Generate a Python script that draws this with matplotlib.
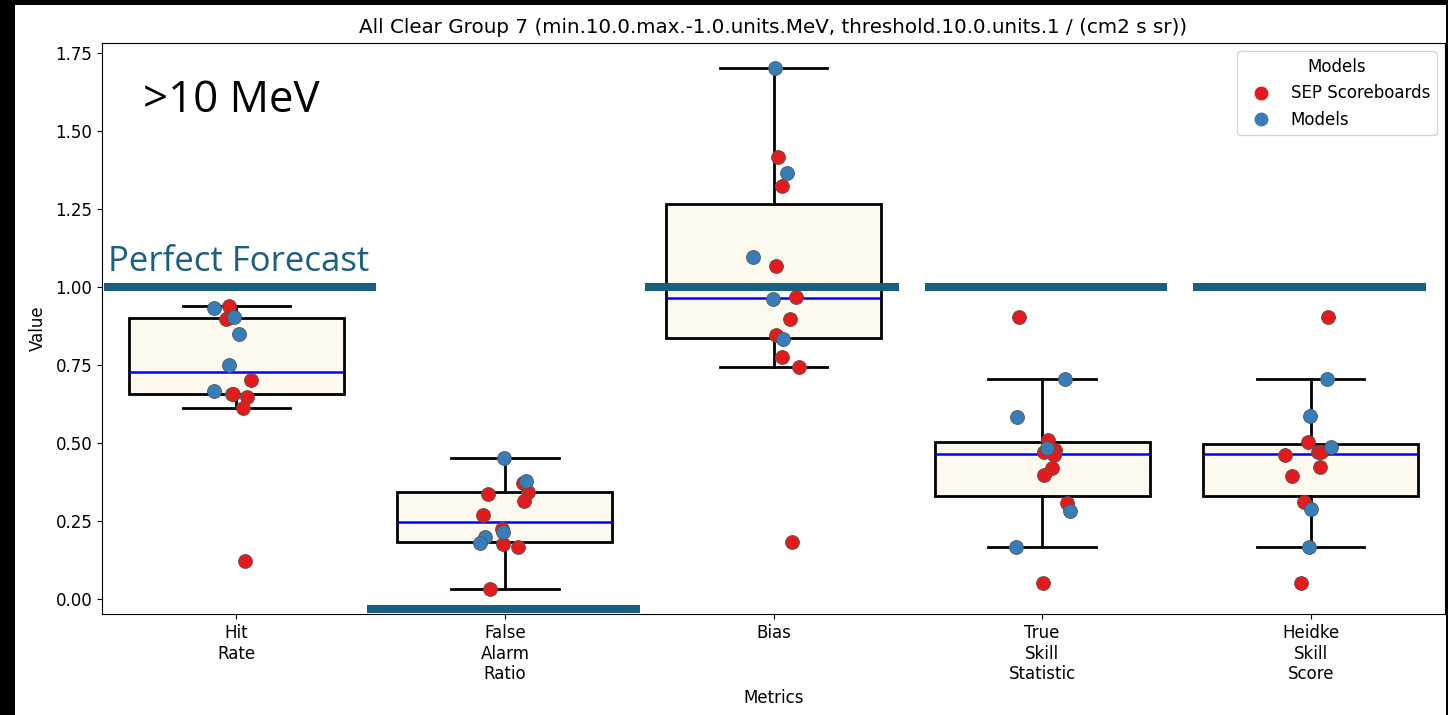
import matplotlib
matplotlib.use("Agg")
import matplotlib.pyplot as plt
from matplotlib.lines import Line2D
from matplotlib.patches import Rectangle

# ---- data -------------------------------------------------------------
metrics = ["Hit\nRate", "False\nAlarm\nRatio", "Bias", "True\nSkill\nStatistic", "Heidke\nSkill\nScore"]

# SEP Scoreboards values per metric
sep_hit = [0.939, 0.900, 0.897, 0.702, 0.656, 0.656, 0.646, 0.613, 0.122]
sep_far = [0.371, 0.344, 0.336, 0.315, 0.270, 0.223, 0.175, 0.168, 0.033]
sep_bias = [1.416, 1.324, 1.067, 0.969, 0.897, 0.846, 0.777, 0.743, 0.182]
sep_tss = [0.905, 0.510, 0.478, 0.470, 0.460, 0.421, 0.397, 0.309, 0.052]
sep_hss = [0.904, 0.502, 0.472, 0.470, 0.462, 0.424, 0.395, 0.310, 0.050]

# Model values per metric
mod_hit = [0.934, 0.905, 0.849, 0.750, 0.667]
mod_far = [0.453, 0.379, 0.216, 0.200, 0.178]
mod_bias = [1.701, 1.364, 1.097, 0.960, 0.833]
mod_tss = [0.704, 0.584, 0.485, 0.282, 0.167]
mod_hss = [0.704, 0.587, 0.486, 0.288, 0.168]

# Perfect-forecast reference level per metric
perfect = [1.0, -0.032, 1.0, 1.0, 1.0]

# ---- layout / styling -------------------------------------------------
sep_dx = [
    [-0.028, -0.032, -0.038, 0.055, -0.017, -0.012, 0.039, 0.026, 0.032],
    [0.068, 0.087, -0.064, 0.072, -0.082, -0.011, -0.008, 0.049, -0.057],
    [0.018, 0.032, 0.008, 0.084, 0.061, 0.008, 0.032, 0.095, 0.068],
    [-0.085, 0.023, 0.048, 0.008, 0.045, 0.038, 0.007, 0.093, 0.003],
    [0.063, -0.011, 0.028, 0.038, -0.096, 0.035, -0.071, -0.026, -0.037],
]
mod_dx = [
    [-0.083, -0.007, 0.009, -0.026, -0.082],
    [-0.002, 0.077, -0.008, -0.073, -0.093],
    [0.006, 0.049, -0.077, -0.001, 0.034],
    [0.086, -0.095, 0.017, 0.103, -0.097],
    [0.062, -0.003, 0.074, 0.002, -0.006],
]
perfect_span = [(-0.493, 0.520), (0.487, 1.503), (1.522, 2.467), (2.564, 3.465), (3.562, 4.429)]

RED = "#e41a1c"
BLUE = "#377eb8"
TEAL = "#185f80"

sep_all = [sep_hit, sep_far, sep_bias, sep_tss, sep_hss]
mod_all = [mod_hit, mod_far, mod_bias, mod_tss, mod_hss]
combined = [s + m for s, m in zip(sep_all, mod_all)]
positions = list(range(len(metrics)))

plt.rcParams["font.size"] = 12

fig = plt.figure(figsize=(14.48, 7.15), dpi=100)
fig.patch.set_facecolor("black")
fig.add_artist(Rectangle((15 / 1448, 0), (1446 - 15) / 1448, 710 / 715,
                         transform=fig.transFigure, facecolor="white",
                         edgecolor="none", zorder=-10))

ax = fig.add_axes([102 / 1448, 101 / 715, 1343 / 1448, 571 / 715])

ax.boxplot(
    combined, positions=positions, widths=0.8, showfliers=False, whis=1.5,
    patch_artist=True,
    boxprops=dict(facecolor="#fdf9ef", edgecolor="black", linewidth=2),
    whiskerprops=dict(color="black", linewidth=2),
    capprops=dict(color="black", linewidth=2),
    medianprops=dict(color="blue", linewidth=1.8),
    zorder=2,
)

for i in positions:
    ax.scatter([i + d for d in sep_dx[i]], sep_all[i], s=100, color=RED,
               edgecolor="#555555", linewidth=0.6, zorder=4)
    ax.scatter([i + d for d in mod_dx[i]], mod_all[i], s=100, color=BLUE,
               edgecolor="#555555", linewidth=0.6, zorder=4)
    x0, x1 = perfect_span[i]
    ax.plot([x0, x1], [perfect[i], perfect[i]], color=TEAL, linewidth=5.8,
            solid_capstyle="butt", zorder=3)

ax.text(-0.478, 1.051, "Perfect Forecast", color=TEAL, fontsize=25,
        family="Open Sans", va="baseline", ha="left")
ax.text(-0.347, 1.561, ">10 MeV", color="black", fontsize=31.5,
        family="Open Sans", va="baseline", ha="left")

ax.set_xlim(-0.5, 4.5)
ax.set_ylim(-0.048, 1.782)
ax.set_xticks(positions)
ax.set_xticklabels(metrics)
ax.set_yticks([0, 0.25, 0.5, 0.75, 1.0, 1.25, 1.5, 1.75])
ax.set_yticklabels([f"{v:.2f}" for v in [0, 0.25, 0.5, 0.75, 1.0, 1.25, 1.5, 1.75]])
ax.set_xlabel("Metrics")
ax.set_ylabel("Value", labelpad=6)
ax.set_title("All Clear Group 7 (min.10.0.max.-1.0.units.MeV, threshold.10.0.units.1 / (cm2 s sr))",
             fontsize=14.3, pad=7)

handles = [
    Line2D([], [], marker="o", linestyle="none", markerfacecolor=RED,
           markeredgecolor=RED, markersize=9, label="SEP Scoreboards"),
    Line2D([], [], marker="o", linestyle="none", markerfacecolor=BLUE,
           markeredgecolor=BLUE, markersize=9, label="Models"),
]
ax.legend(handles=handles, title="Models", loc="upper right", fontsize=12,
          title_fontsize=12)

fig.savefig("out.png", dpi=100, facecolor=fig.get_facecolor())
